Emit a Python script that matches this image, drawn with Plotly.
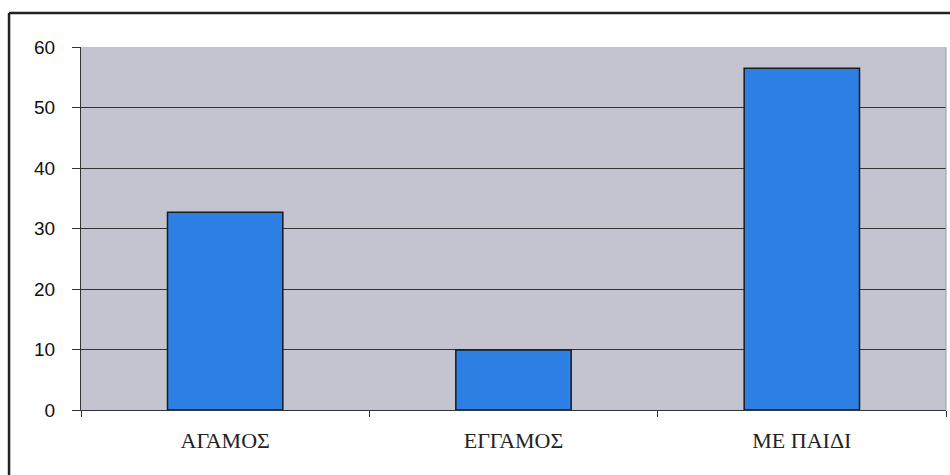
import plotly.graph_objects as go

categories = ["ΑΓΑΜΟΣ", "ΕΓΓΑΜΟΣ", "ΜΕ ΠΑΙΔΙ"]
values = [32.7, 9.9, 56.5]
y_ticks = [0, 10, 20, 30, 40, 50, 60]

fig = go.Figure(go.Bar(
    x=categories, y=values,
    marker=dict(color="#2c80e4", line=dict(color="#1a1a1a", width=1.5)),
    width=0.4,
))

fig.update_layout(
    width=950, height=475,
    margin=dict(l=81, r=4, t=47, b=65),
    paper_bgcolor="white",
    plot_bgcolor="#c4c4d0",
    showlegend=False,
    xaxis=dict(
        showgrid=False, ticks="outside", tickson="boundaries", ticklen=6,
        tickcolor="#333", showline=True, linecolor="#333", linewidth=1,
        tickfont=dict(family="Liberation Serif", size=22, color="#222"),
        ticklabelstandoff=11,
    ),
    yaxis=dict(
        range=[0, 60], tickvals=y_ticks, showgrid=True, gridcolor="#333",
        gridwidth=1, ticks="outside", ticklen=8, tickcolor="#333",
        showline=True, linecolor="#333", linewidth=1, zeroline=False,
        tickfont=dict(family="Liberation Sans", size=19, color="#111"),
        ticklabelstandoff=13,
    ),
    shapes=[
        dict(type="line", xref="paper", yref="paper", x0=-0.0832, x1=-0.0832,
             y0=1.094, y1=-0.2, line=dict(color="#222", width=2.5)),
        dict(type="line", xref="paper", yref="paper", x0=-0.0832, x1=1.01,
             y0=1.094, y1=1.094, line=dict(color="#222", width=2.5)),
        dict(type="line", xref="paper", yref="paper", x0=1, x1=1,
             y0=0, y1=1, line=dict(color="#9a9aa4", width=1)),
    ],
)

fig.write_html("out.html")
